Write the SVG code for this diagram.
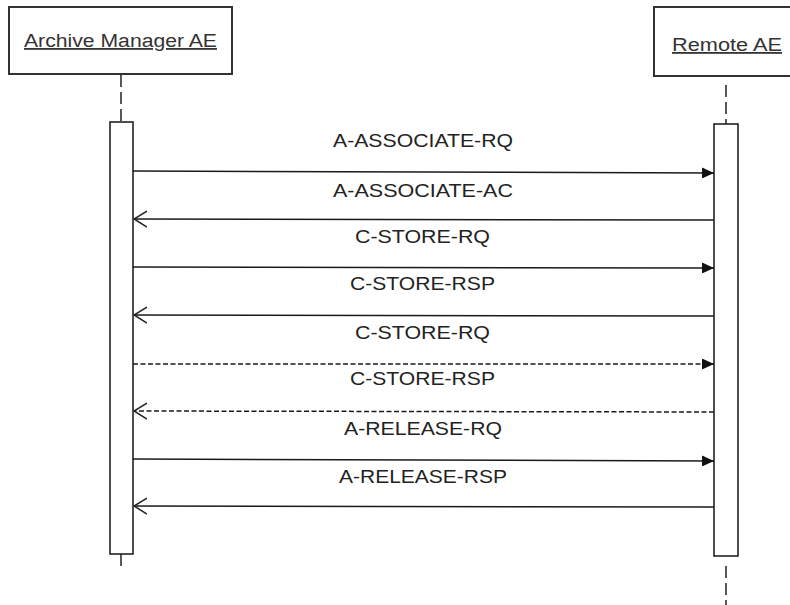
<svg xmlns="http://www.w3.org/2000/svg" width="790" height="605" viewBox="0 0 790 605">
<style>
.obj{fill:#fff;stroke:#333;stroke-width:2}
.act{fill:#fff;stroke:#222;stroke-width:1.6}
.life{stroke:#222;stroke-width:1.5;stroke-dasharray:12 5;fill:none}
.msg{stroke:#1a1a1a;stroke-width:1.5;fill:none}
.dash{stroke-dasharray:5 2.5}
.t{font-family:"Liberation Sans",Arial,sans-serif;font-size:18px;fill:#222;text-anchor:middle}
.h{font-family:"Liberation Sans",Arial,sans-serif;font-size:18px;fill:#333;text-decoration:underline}
</style>
<defs>
<marker id="solid" markerWidth="13" markerHeight="11" refX="12" refY="5.5" orient="auto" markerUnits="userSpaceOnUse">
<path d="M0,0 L12,5.5 L0,11 Z" fill="#111"/>
</marker>
<marker id="open" markerWidth="14" markerHeight="18" refX="13" refY="9" orient="auto" markerUnits="userSpaceOnUse">
<path d="M0,1 L13,9 L0,17" fill="none" stroke="#222" stroke-width="1.5"/>
</marker>
</defs>
<rect width="790" height="605" fill="#fff"/>
<g id="archive-manager">
<rect class="obj" x="9" y="7" width="223" height="67"/>
<text class="h" x="24" y="47" textLength="193" lengthAdjust="spacingAndGlyphs">Archive Manager AE</text>
<line class="life" x1="121" y1="75" x2="121" y2="122"/>
<rect class="act" x="110" y="122" width="23" height="432"/>
<line class="life" x1="121" y1="554" x2="121" y2="566"/>
</g>
<g id="remote-ae">
<rect class="obj" x="654" y="7" width="150" height="69"/>
<text class="h" x="672" y="51" textLength="110" lengthAdjust="spacingAndGlyphs">Remote AE</text>
<line class="life" x1="726" y1="85" x2="726" y2="124"/>
<rect class="act" x="714" y="124" width="24" height="432"/>
<line class="life" x1="726" y1="566" x2="726" y2="605"/>
</g>
<g id="connectors">
<line class="msg" x1="133" y1="171" x2="714" y2="173" marker-end="url(#solid)"/>
<line class="msg" x1="714" y1="220" x2="134" y2="219" marker-end="url(#open)"/>
<line class="msg" x1="133" y1="267" x2="714" y2="268" marker-end="url(#solid)"/>
<line class="msg" x1="714" y1="316" x2="134" y2="315" marker-end="url(#open)"/>
<line class="msg dash" x1="133" y1="364" x2="714" y2="364" marker-end="url(#solid)"/>
<line class="msg dash" x1="714" y1="412" x2="134" y2="411" marker-end="url(#open)"/>
<line class="msg" x1="133" y1="459" x2="714" y2="461" marker-end="url(#solid)"/>
<line class="msg" x1="714" y1="507" x2="134" y2="506" marker-end="url(#open)"/>
</g>
<g id="labels">
<text class="t" x="423" y="147" textLength="180" lengthAdjust="spacingAndGlyphs">A-ASSOCIATE-RQ</text>
<text class="t" x="423" y="197" textLength="180" lengthAdjust="spacingAndGlyphs">A-ASSOCIATE-AC</text>
<text class="t" x="422.5" y="243" textLength="135" lengthAdjust="spacingAndGlyphs">C-STORE-RQ</text>
<text class="t" x="422.5" y="290" textLength="145" lengthAdjust="spacingAndGlyphs">C-STORE-RSP</text>
<text class="t" x="422.5" y="339" textLength="135" lengthAdjust="spacingAndGlyphs">C-STORE-RQ</text>
<text class="t" x="422.5" y="385" textLength="145" lengthAdjust="spacingAndGlyphs">C-STORE-RSP</text>
<text class="t" x="423" y="435" textLength="158" lengthAdjust="spacingAndGlyphs">A-RELEASE-RQ</text>
<text class="t" x="423" y="483" textLength="168" lengthAdjust="spacingAndGlyphs">A-RELEASE-RSP</text>
</g>
</svg>
